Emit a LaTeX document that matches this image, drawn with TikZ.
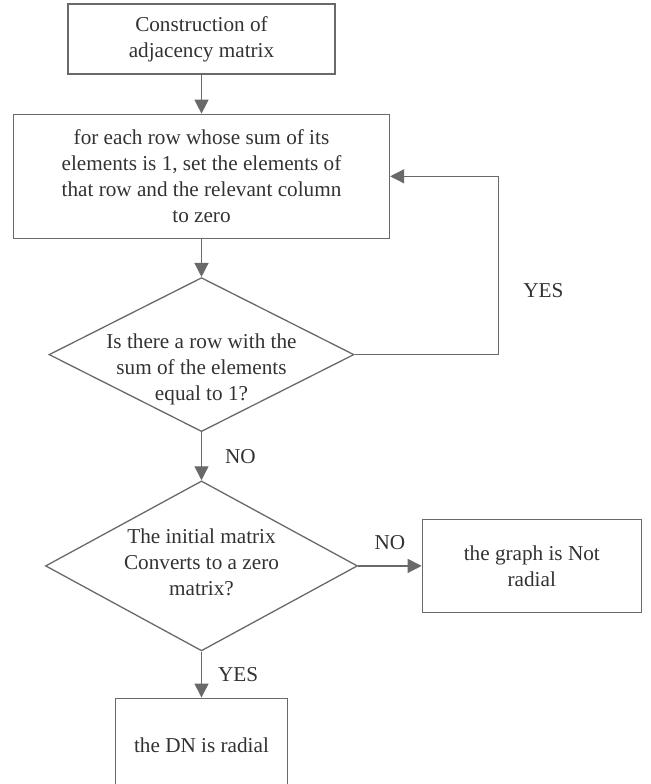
\documentclass[tikz,border=0pt]{standalone}
\usepackage{fontspec}
\setmainfont{Liberation Serif}
\usepackage{tikz}
\usetikzlibrary{shapes,arrows.meta,positioning}
\definecolor{linegrey}{RGB}{105,105,105}
\definecolor{textgrey}{RGB}{50,50,50}

\begin{document}
\begin{tikzpicture}[
        font=\fontsize{10.6}{13}\selectfont,
        box/.style={rectangle, draw=linegrey, line width=0.65pt, align=center, text=textgrey, inner sep=2pt},
        decision/.style={diamond, draw=linegrey, line width=0.65pt, inner sep=0pt},
        qtext/.style={align=center, text=textgrey, inner sep=0pt},
        lbl/.style={text=textgrey, inner sep=0pt},
        arrow/.style={-{Triangle[length=7pt,width=7pt]}, draw=linegrey, line width=0.65pt}
    ]
        \useasboundingbox (0,0) rectangle (325.5pt,-392pt);

        % Main column
        \node[box, minimum width=133.5pt, minimum height=35pt] (build) at (100.75pt,-19.5pt) {Construction of\\adjacency matrix};
        \node[box, below=19.5pt of build, minimum width=188pt, minimum height=62pt] (zero) {for each row whose sum of its\\elements is 1, set the elements of\\that row and the relevant column\\to zero};
        \node[decision, below=19pt of zero, minimum width=152.5pt, minimum height=77pt] (q1) {};
        \node[qtext] (q1txt) at ([yshift=-7.5pt]q1.center) {Is there a row with the\\sum of the elements\\equal to 1?};
        \node[decision, below=24pt of q1, minimum width=156pt, minimum height=85pt] (q2) {};
        \node[qtext] (q2txt) at ([yshift=2pt]q2.center) {The initial matrix\\Converts to a zero\\matrix?};

        % Results
        \node[box, right=31.75pt of q2, minimum width=109.5pt, minimum height=46.5pt] (notrad) {the graph is Not\\radial};
        \node[box, below=23pt of q2, minimum width=86pt, minimum height=47.5pt] (rad) {the DN is radial};

        % Arrows
        \draw[arrow] (build) -- (zero);
        \draw[arrow] (zero) -- (q1);
        \draw[arrow] (q1.east) -- ++(72pt,0) |- node[lbl, pos=0.18, right=12pt] (yes1) {YES} (zero.east);
        \draw[arrow] (q1) -- node[lbl, right=11.5pt] (no1) {NO} (q2);
        \draw[arrow] (q2) -- node[lbl, above=8pt] (no2) {NO} (notrad);
        \draw[arrow] (q2) -- node[lbl, right=8pt] (yes2) {YES} (rad);
    \end{tikzpicture}
\end{document}
